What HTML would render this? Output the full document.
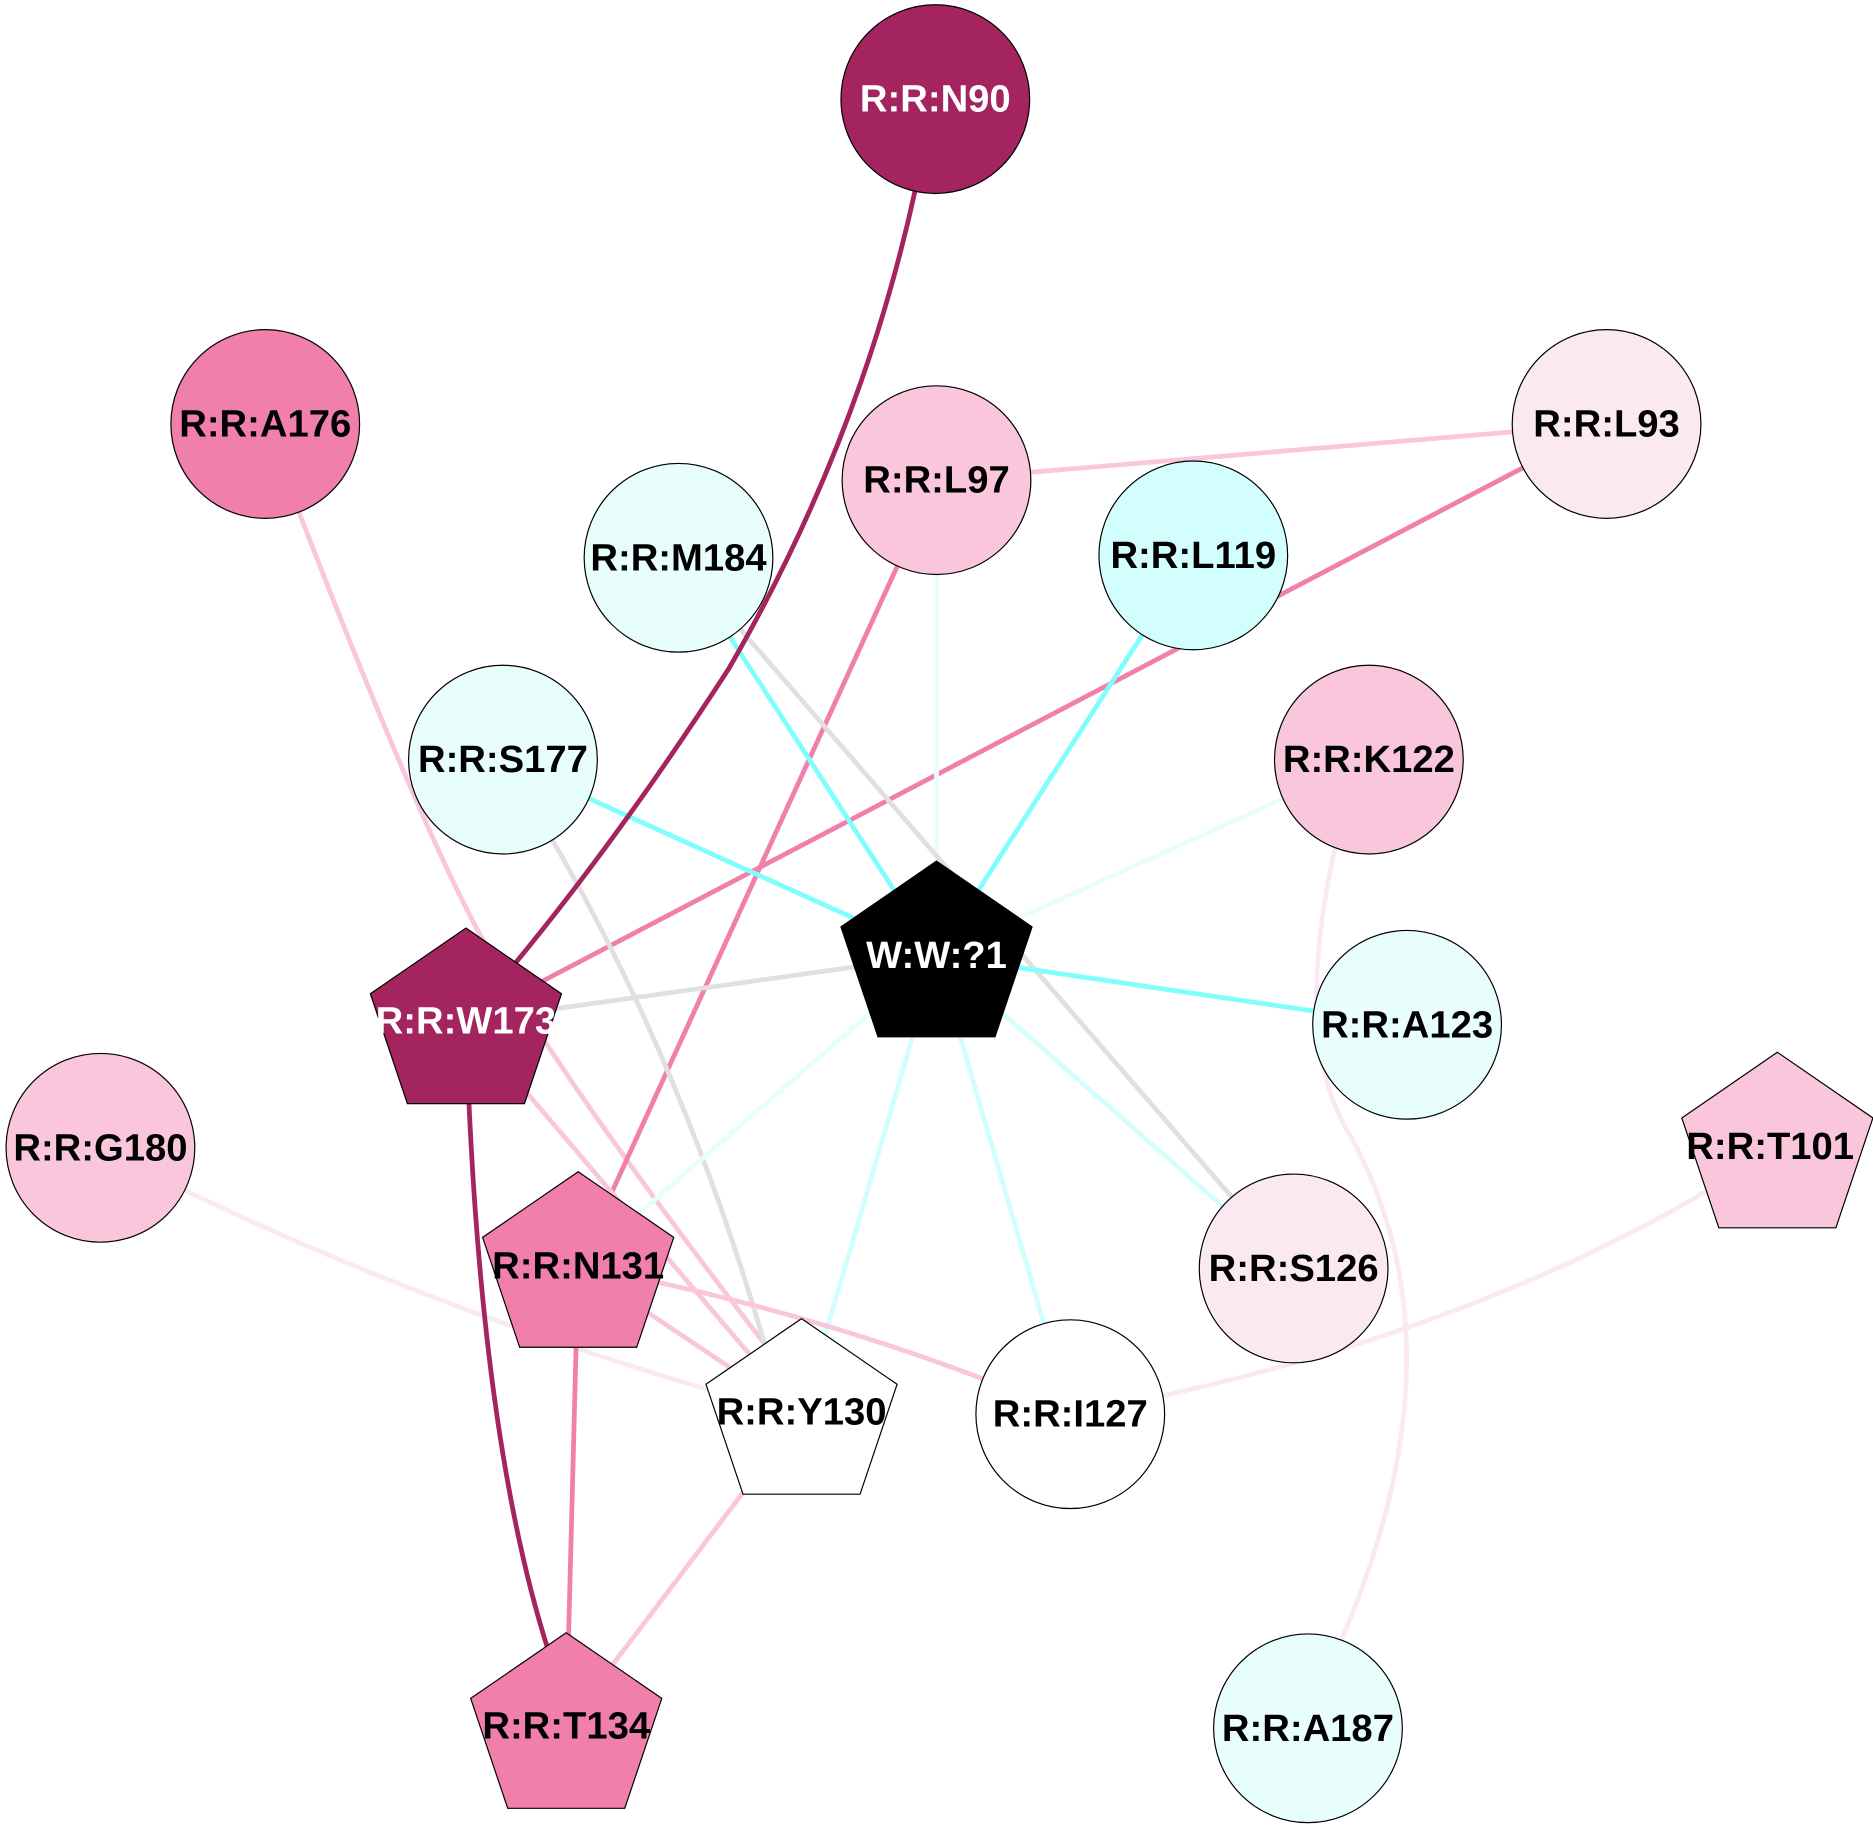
<!DOCTYPE html>
<html><head><meta charset="utf-8"><style>
html,body{margin:0;padding:0;background:#fff;}
svg{display:block}
text{font-family:"Liberation Sans",Arial,sans-serif;font-weight:bold;font-size:32px;text-anchor:middle;dominant-baseline:central}
</style></head><body>
<svg width="1873" height="1831" viewBox="0 0 1568 1533" xmlns="http://www.w3.org/2000/svg">
<rect width="1568" height="1533" fill="#fff"/>
<g fill="none" stroke-width="4">
<path d="M222,355 Q330,640 390,760 T640,1125" stroke="#f9c6dc"/>
<path d="M784,402 L1345,355" stroke="#f9c6dc"/>
<path d="M1345,355 L390,855" stroke="#f07fac"/>
<path d="M784,402 L484,1060" stroke="#f07fac"/>
<path d="M784,402 L784,800" stroke="#e8fefd"/>
<path d="M568,467 L784,800" stroke="#80fefe"/>
<path d="M568,467 L1083,1062" stroke="#e0e0e0"/>
<path d="M999,465 L784,800" stroke="#80fefe"/>
<path d="M421,636 L784,800" stroke="#80fefe"/>
<path d="M421,636 Q560,850 640,1125" stroke="#e0e0e0"/>
<path d="M1146,636 L784,800" stroke="#e8fefd"/>
<path d="M1120,700 Q1080,870 1130,950 Q1230,1130 1120,1380" stroke="#fbe9f1"/>
<path d="M784,800 L390,855" stroke="#e0e0e0"/>
<path d="M784,800 L1178,858" stroke="#80fefe"/>
<path d="M784,800 L484,1060" stroke="#e8fefd"/>
<path d="M784,800 L671,1185" stroke="#d2fefe"/>
<path d="M784,800 L896,1184" stroke="#d2fefe"/>
<path d="M784,800 L1083,1062" stroke="#d2fefe"/>
<path d="M390,855 L671,1185" stroke="#f9c6dc"/>
<path d="M84,961 Q350,1100 671,1185" stroke="#fbe9f1"/>
<path d="M484,1060 L671,1185" stroke="#f9c6dc"/>
<path d="M484,1060 Q700,1100 896,1184" stroke="#f9c6dc"/>
<path d="M484,1060 L474,1445" stroke="#f07fac"/>
<path d="M671,1185 L474,1445" stroke="#f9c6dc"/>
<path d="M896,1184 Q1250,1120 1488,960" stroke="#fbe9f1"/>
<path d="M766,160 Q720,370 610,560 Q500,730 390,855" stroke="#a3245f"/>
<path d="M390,855 Q400,1200 460,1385" stroke="#a3245f"/>
</g>
<g stroke="#000" stroke-width="1">
<circle cx="783" cy="83" r="79" fill="#a3245f"/>
<circle cx="222" cy="355" r="79" fill="#f07fac"/>
<circle cx="784" cy="402" r="79" fill="#f9c6dc"/>
<circle cx="1345" cy="355" r="79" fill="#fbe9f1"/>
<circle cx="568" cy="467" r="79" fill="#e8fefd"/>
<circle cx="999" cy="465" r="79" fill="#d2fefe"/>
<circle cx="421" cy="636" r="79" fill="#e8fefd"/>
<circle cx="1146" cy="636" r="79" fill="#f9c6dc"/>
<circle cx="1178" cy="858" r="79" fill="#e8fefd"/>
<circle cx="84" cy="961" r="79" fill="#f9c6dc"/>
<circle cx="1083" cy="1062" r="79" fill="#fbe9f1"/>
<circle cx="896" cy="1184" r="79" fill="#fff"/>
<circle cx="1095" cy="1447" r="79" fill="#e8fefd"/>
<polygon points="784,721 864,776 833,868 735,868 704,776" fill="#000"/>
<polygon points="390,777 470,832 439,924 341,924 310,832" fill="#a3245f"/>
<polygon points="1488,881 1568,936 1537,1028 1439,1028 1408,936" fill="#f9c6dc"/>
<polygon points="484,981 564,1036 533,1128 435,1128 404,1036" fill="#f07fac"/>
<polygon points="671,1104 751,1159 720,1251 622,1251 591,1159" fill="#fff"/>
<polygon points="474,1367 554,1422 523,1514 425,1514 394,1422" fill="#f07fac"/>
</g>
<g fill="#000">
<text x="783" y="83" fill="#fff">R:R:N90</text>
<text x="222" y="355">R:R:A176</text>
<text x="784" y="402">R:R:L97</text>
<text x="1345" y="355">R:R:L93</text>
<text x="568" y="467">R:R:M184</text>
<text x="999" y="465">R:R:L119</text>
<text x="421" y="636">R:R:S177</text>
<text x="1146" y="636">R:R:K122</text>
<text x="1178" y="858">R:R:A123</text>
<text x="84" y="961">R:R:G180</text>
<text x="1083" y="1062">R:R:S126</text>
<text x="896" y="1184">R:R:I127</text>
<text x="1095" y="1447">R:R:A187</text>
<text x="784" y="800" fill="#fff">W:W:?1</text>
<text x="390" y="855" fill="#fff">R:R:W173</text>
<text x="1482" y="960">R:R:T101</text>
<text x="484" y="1060">R:R:N131</text>
<text x="671" y="1182">R:R:Y130</text>
<text x="474" y="1445">R:R:T134</text>
</g>
</svg>
</body></html>
